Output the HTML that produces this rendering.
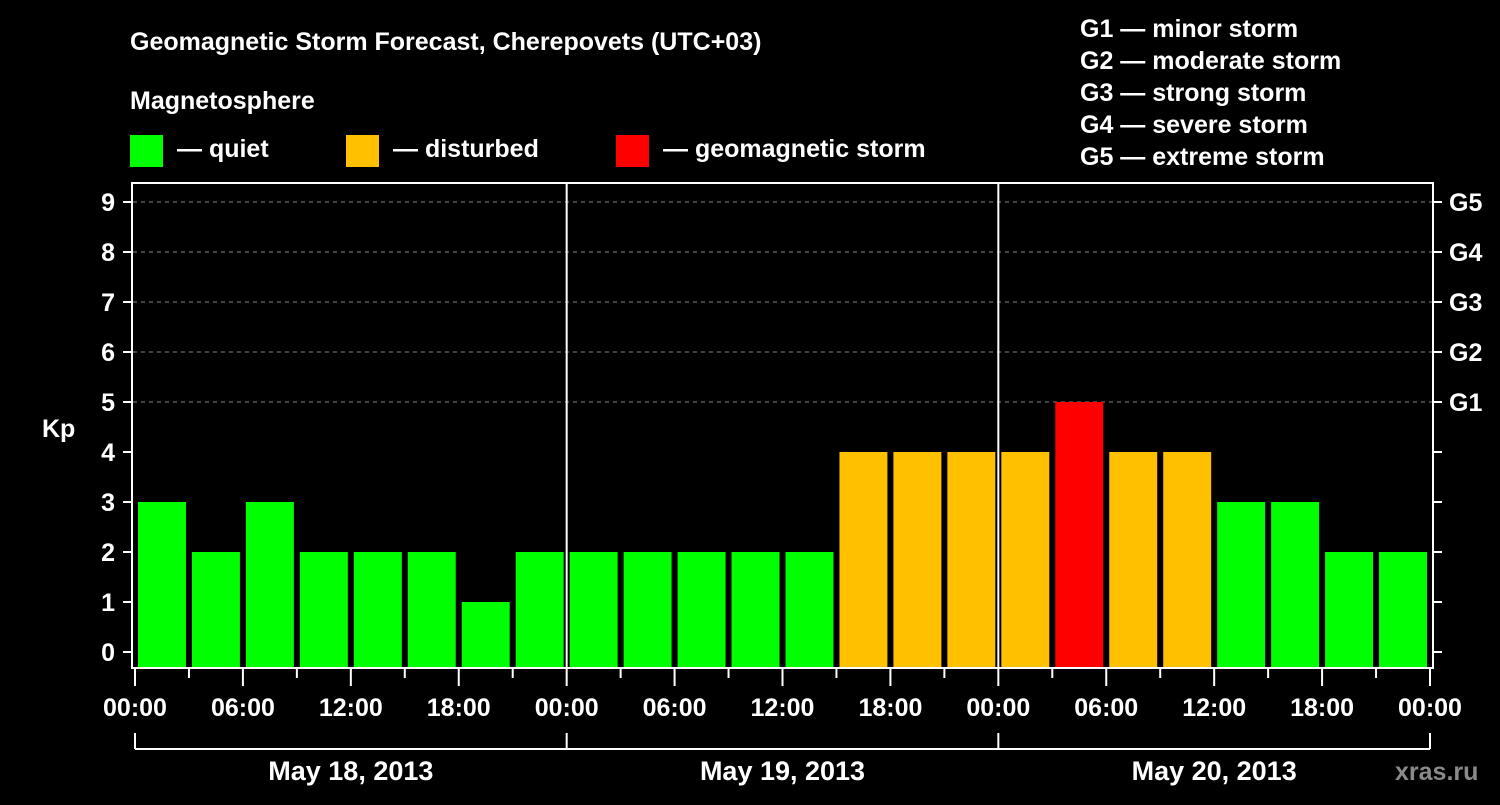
<!DOCTYPE html>
<html><head><meta charset="utf-8"><style>
body{margin:0;background:#000;width:1500px;height:800px;overflow:hidden}
svg text{font-family:"Liberation Sans",Arial,sans-serif;font-weight:bold;fill:#fff}
</style></head><body>
<svg id="c" width="1500" height="800">
<rect width="1500" height="800" fill="#000"/>
<text x="130" y="50" font-size="25">Geomagnetic Storm Forecast, Cherepovets (UTC+03)</text>
<text x="130" y="109" font-size="25">Magnetosphere</text>
<rect x="130" y="135" width="33" height="32" fill="#00ff00"/>
<text x="177" y="157" font-size="25">— quiet</text>
<rect x="346" y="135" width="33" height="32" fill="#ffc000"/>
<text x="393" y="157" font-size="25">— disturbed</text>
<rect x="616" y="135" width="33" height="32" fill="#ff0000"/>
<text x="663" y="157" font-size="25">— geomagnetic storm</text>
<g font-size="25">
<text x="1080" y="37">G1 — minor storm</text>
<text x="1080" y="69">G2 — moderate storm</text>
<text x="1080" y="101">G3 — strong storm</text>
<text x="1080" y="133">G4 — severe storm</text>
<text x="1080" y="165">G5 — extreme storm</text>
</g>
<text x="42" y="437" font-size="25">Kp</text>
<text x="1395" y="780" font-size="25" fill="#888" style="fill:#8a8a8a">xras.ru</text>
<g id="g"></g>
</svg>
<script>
const kpValues=[3,2,3,2,2,2,1,2, 2,2,2,2,2,4,4,4, 4,5,4,4,3,3,2,2];
const yTicks=[0,1,2,3,4,5,6,7,8,9];
const gLabels=["G1","G2","G3","G4","G5"];
const hourLabels=["00:00","06:00","12:00","18:00","00:00","06:00","12:00","18:00","00:00","06:00","12:00","18:00","00:00"];
const dayLabels=["May 18, 2013","May 19, 2013","May 20, 2013"];
const NS="http://www.w3.org/2000/svg";
const g=document.getElementById('g');
const X0=135,X1=1430,PT=183,PB=668;
const xs=h=>X0+h*(X1-X0)/72;
const ys=v=>652-50*v;
function mk(t,a,txt){const e=document.createElementNS(NS,t);for(const k in a)e.setAttribute(k,a[k]);if(txt!=null)e.textContent=txt;g.appendChild(e);return e;}
// grid
for(let v=5;v<=9;v++){const e=mk('line',{x1:133,x2:1433,y1:ys(v),y2:ys(v),stroke:'#888','stroke-dasharray':'4,4','stroke-width':1});

}
// bars
kpValues.forEach((v,i)=>{const c=v>=5?'#ff0000':v>=4?'#ffc000':'#00ff00';
const e=mk('rect',{x:xs(3*i)+3,y:ys(v),width:xs(3*i+3)-xs(3*i)-6,height:PB-1-ys(v),fill:c});

});
// day separators
[24,48].forEach(h=>{const e=mk('line',{x1:xs(h),x2:xs(h),y1:PT,y2:PB,stroke:'#fff','stroke-width':2});

});
// frame
const f=mk('rect',{x:132,y:PT,width:1301,height:PB-PT,fill:'none',stroke:'#fff','stroke-width':2});


// y ticks
yTicks.forEach(v=>{mk('line',{x1:123,x2:132,y1:ys(v),y2:ys(v),stroke:'#fff','stroke-width':2});
mk('line',{x1:1433,x2:1442,y1:ys(v),y2:ys(v),stroke:'#fff','stroke-width':2});
const t=mk('text',{x:115,y:ys(v)+9,'font-size':25,'text-anchor':'end'},v);

});
gLabels.forEach((l,i)=>{const t=mk('text',{x:1449,y:ys(5+i)+9,'font-size':25},l);

});
// x ticks
for(let h=0;h<=72;h+=3){const major=h%6===0;mk('line',{x1:xs(h),x2:xs(h),y1:PB,y2:major?686:678,stroke:'#fff','stroke-width':2});}
hourLabels.forEach((l,i)=>{const t=mk('text',{x:xs(6*i),y:716,'font-size':25,'text-anchor':'middle'},l);

});
// day bracket
mk('line',{x1:xs(0),x2:xs(72),y1:749,y2:749,stroke:'#fff','stroke-width':2});
[0,24,48,72].forEach(h=>mk('line',{x1:xs(h),x2:xs(h),y1:733,y2:749,stroke:'#fff','stroke-width':2}));
dayLabels.forEach((l,i)=>{const t=mk('text',{x:xs(24*i+12),y:780,'font-size':27,'text-anchor':'middle'},l);

});
</script>
</body></html>
